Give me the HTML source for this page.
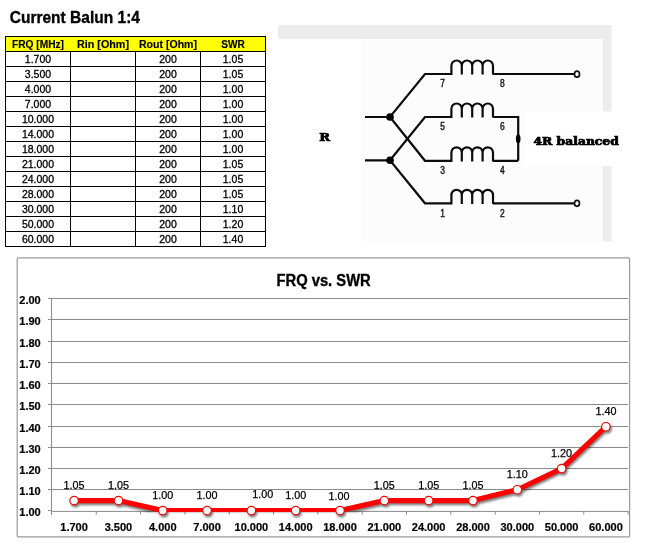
<!DOCTYPE html><html><head><meta charset="utf-8"><title>Current Balun 1:4</title>
<style>
html,body{margin:0;padding:0;background:#fff;}
body{width:653px;height:557px;overflow:hidden;position:relative;font-family:"Liberation Sans",sans-serif;}
svg{position:absolute;left:0;top:0;}
text{font-family:"Liberation Sans",sans-serif;fill:#000;}
.b{font-weight:bold;stroke:#000;stroke-width:0.2px;}
.hd{font-weight:bold;font-size:11px;text-anchor:middle;stroke:#000;stroke-width:0.15px;}
.td{font-size:10.5px;text-anchor:middle;stroke:#000;stroke-width:0.3px;}
.ax{font-weight:bold;font-size:11px;stroke:#000;stroke-width:0.2px;}
.dl{font-size:10.8px;text-anchor:middle;stroke:#000;stroke-width:0.25px;}
.num{font-size:11px;text-anchor:middle;fill:#222;stroke:#222;stroke-width:0.5px;}
.slab{font-family:"DejaVu Serif Condensed","DejaVu Serif","Liberation Serif",serif;font-weight:bold;stroke:#000;stroke-width:0.5px;}
</style></head><body>
<svg width="653" height="557" viewBox="0 0 653 557">
<defs><filter id="sh" x="-5%" y="-20%" width="110%" height="150%"><feGaussianBlur stdDeviation="1.2"/></filter></defs>
<text class="b" x="9.7" y="23.1" font-size="16.9" style="stroke-width:0.35px" textLength="130.3" lengthAdjust="spacingAndGlyphs">Current Balun 1:4</text>
<rect x="5.5" y="36.5" width="260" height="15" fill="#ffff00"/>
<path d="M5.0 36.5H266.0M5.0 51.5H266.0M5.0 66.5H266.0M5.0 81.5H266.0M5.0 96.5H266.0M5.0 111.5H266.0M5.0 126.5H266.0M5.0 141.5H266.0M5.0 156.5H266.0M5.0 171.5H266.0M5.0 186.5H266.0M5.0 201.5H266.0M5.0 216.5H266.0M5.0 231.5H266.0M5.0 246.5H266.0M5.5 36.5V246.5M70.5 51.5V246.5M135.5 51.5V246.5M200.5 51.5V246.5M265.5 36.5V246.5" stroke="#000" stroke-width="1" fill="none" shape-rendering="crispEdges"/>
<text class="hd" x="38.0" y="48.0" textLength="52" lengthAdjust="spacingAndGlyphs">FRQ [MHz]</text>
<text class="hd" x="103.0" y="48.0" textLength="52" lengthAdjust="spacingAndGlyphs">Rin [Ohm]</text>
<text class="hd" x="168.0" y="48.0" textLength="58" lengthAdjust="spacingAndGlyphs">Rout [Ohm]</text>
<text class="hd" x="233.0" y="48.0" textLength="23.5" lengthAdjust="spacingAndGlyphs">SWR</text>
<text class="td" x="38.0" y="63.0">1.700</text>
<text class="td" x="168.0" y="63.0">200</text>
<text class="td" x="233.0" y="63.0">1.05</text>
<text class="td" x="38.0" y="78.0">3.500</text>
<text class="td" x="168.0" y="78.0">200</text>
<text class="td" x="233.0" y="78.0">1.05</text>
<text class="td" x="38.0" y="93.0">4.000</text>
<text class="td" x="168.0" y="93.0">200</text>
<text class="td" x="233.0" y="93.0">1.00</text>
<text class="td" x="38.0" y="108.0">7.000</text>
<text class="td" x="168.0" y="108.0">200</text>
<text class="td" x="233.0" y="108.0">1.00</text>
<text class="td" x="38.0" y="123.0">10.000</text>
<text class="td" x="168.0" y="123.0">200</text>
<text class="td" x="233.0" y="123.0">1.00</text>
<text class="td" x="38.0" y="138.0">14.000</text>
<text class="td" x="168.0" y="138.0">200</text>
<text class="td" x="233.0" y="138.0">1.00</text>
<text class="td" x="38.0" y="153.0">18.000</text>
<text class="td" x="168.0" y="153.0">200</text>
<text class="td" x="233.0" y="153.0">1.00</text>
<text class="td" x="38.0" y="168.0">21.000</text>
<text class="td" x="168.0" y="168.0">200</text>
<text class="td" x="233.0" y="168.0">1.05</text>
<text class="td" x="38.0" y="183.0">24.000</text>
<text class="td" x="168.0" y="183.0">200</text>
<text class="td" x="233.0" y="183.0">1.05</text>
<text class="td" x="38.0" y="198.0">28.000</text>
<text class="td" x="168.0" y="198.0">200</text>
<text class="td" x="233.0" y="198.0">1.05</text>
<text class="td" x="38.0" y="213.0">30.000</text>
<text class="td" x="168.0" y="213.0">200</text>
<text class="td" x="233.0" y="213.0">1.10</text>
<text class="td" x="38.0" y="228.0">50.000</text>
<text class="td" x="168.0" y="228.0">200</text>
<text class="td" x="233.0" y="228.0">1.20</text>
<text class="td" x="38.0" y="243.0">60.000</text>
<text class="td" x="168.0" y="243.0">200</text>
<text class="td" x="233.0" y="243.0">1.40</text>
<g id="diagram">
<rect x="278" y="25" width="333" height="14" fill="#ececec"/>
<rect x="602.5" y="25" width="9" height="216.5" fill="#ececec"/>
<rect x="361" y="39" width="241.5" height="202.5" fill="#fcfcfc"/>
<rect x="525" y="111.5" width="128" height="54.5" fill="#fff"/>
<path d="M365 117H390L425 74H451.4V65.8A5.2 5.3 0 0 1 461.79999999999995 65.8V74.6V74V65.8A5.2 5.3 0 0 1 472.19999999999993 65.8V74.6V74V65.8A5.2 5.3 0 0 1 482.59999999999997 65.8V74.6V74V65.8A5.2 5.3 0 0 1 492.99999999999994 65.8V74.6V74H574" fill="none" stroke="#0c0c0c" stroke-width="2.2" stroke-linejoin="miter"/>
<path d="M365 160.3H390L425 203.3H451.4V195.10000000000002A5.2 5.3 0 0 1 461.79999999999995 195.10000000000002V203.9V203.3V195.10000000000002A5.2 5.3 0 0 1 472.19999999999993 195.10000000000002V203.9V203.3V195.10000000000002A5.2 5.3 0 0 1 482.59999999999997 195.10000000000002V203.9V203.3V195.10000000000002A5.2 5.3 0 0 1 492.99999999999994 195.10000000000002V203.9V203.3H574" fill="none" stroke="#0c0c0c" stroke-width="2.2" stroke-linejoin="miter"/>
<path d="M390 160.3L425 117H451.4V108.8A5.2 5.3 0 0 1 461.79999999999995 108.8V117.6V117V108.8A5.2 5.3 0 0 1 472.19999999999993 108.8V117.6V117V108.8A5.2 5.3 0 0 1 482.59999999999997 108.8V117.6V117V108.8A5.2 5.3 0 0 1 492.99999999999994 108.8V117.6V117H518.2V160.8" fill="none" stroke="#0c0c0c" stroke-width="2.2" stroke-linejoin="miter"/>
<path d="M390 117L425 160.8H451.4V152.60000000000002A5.2 5.3 0 0 1 461.79999999999995 152.60000000000002V161.4V160.8V152.60000000000002A5.2 5.3 0 0 1 472.19999999999993 152.60000000000002V161.4V160.8V152.60000000000002A5.2 5.3 0 0 1 482.59999999999997 152.60000000000002V161.4V160.8V152.60000000000002A5.2 5.3 0 0 1 492.99999999999994 152.60000000000002V161.4V160.8H518.2" fill="none" stroke="#0c0c0c" stroke-width="2.2" stroke-linejoin="miter"/>
<circle cx="390" cy="117" r="3.8" fill="#000"/><circle cx="390" cy="160.3" r="3.8" fill="#000"/>
<ellipse cx="518.2" cy="138.8" rx="2.3" ry="4.6" fill="#000"/>
<ellipse cx="577" cy="74.2" rx="2.5" ry="3" fill="#fff" stroke="#111" stroke-width="1.7"/><ellipse cx="577" cy="203.3" rx="2.5" ry="3" fill="#fff" stroke="#111" stroke-width="1.7"/>
<text class="num" x="442.6" y="86.8" textLength="4.7" lengthAdjust="spacingAndGlyphs">7</text>
<text class="num" x="502.3" y="86.8" textLength="4.7" lengthAdjust="spacingAndGlyphs">8</text>
<text class="num" x="442.6" y="130" textLength="4.7" lengthAdjust="spacingAndGlyphs">5</text>
<text class="num" x="502.3" y="130" textLength="4.7" lengthAdjust="spacingAndGlyphs">6</text>
<text class="num" x="442.6" y="174" textLength="4.7" lengthAdjust="spacingAndGlyphs">3</text>
<text class="num" x="502.3" y="174" textLength="4.7" lengthAdjust="spacingAndGlyphs">4</text>
<text class="num" x="442.6" y="217.3" textLength="4.7" lengthAdjust="spacingAndGlyphs">1</text>
<text class="num" x="502.3" y="217.3" textLength="4.7" lengthAdjust="spacingAndGlyphs">2</text>
<text class="slab" x="319.3" y="140.8" font-size="11.2" style="stroke-width:0.7px" textLength="10.8" lengthAdjust="spacingAndGlyphs">R</text>
<text class="slab" x="533.5" y="144.7" font-size="10.9" style="stroke-width:0.7px" textLength="85.3" lengthAdjust="spacingAndGlyphs">4R balanced</text>
</g>
<g id="chart">
<rect x="17.2" y="257.9" width="612.40" height="278.90" rx="1" fill="#fff" stroke="#9c9c9c" stroke-width="1.25"/>
<path d="M48.0 298.5H628.0M48.0 319.5H628.0M48.0 341.5H628.0M48.0 362.5H628.0M48.0 383.5H628.0M48.0 404.5H628.0M48.0 426.5H628.0M48.0 447.5H628.0M48.0 468.5H628.0M48.0 489.5H628.0M48.0 510.5H51.5" stroke="#8a8a8a" stroke-width="1" fill="none" shape-rendering="crispEdges"/>
<path d="M51.5 298.0V514.5" stroke="#8a8a8a" stroke-width="1" fill="none" shape-rendering="crispEdges"/>
<path d="M51.5 511.4H628.5M96.27 511.4V514.6M140.59 511.4V514.6M184.91 511.4V514.6M229.23 511.4V514.6M273.55 511.4V514.6M317.87 511.4V514.6M362.19 511.4V514.6M406.51 511.4V514.6M450.83 511.4V514.6M495.15 511.4V514.6M539.47 511.4V514.6M583.79 511.4V514.6M628.11 511.4V514.6" stroke="#8a8a8a" stroke-width="1" fill="none"/>
<text class="ax" x="19.3" y="304.00">2.00</text>
<text class="ax" x="19.3" y="325.00">1.90</text>
<text class="ax" x="19.3" y="347.00">1.80</text>
<text class="ax" x="19.3" y="368.00">1.70</text>
<text class="ax" x="19.3" y="389.00">1.60</text>
<text class="ax" x="19.3" y="410.00">1.50</text>
<text class="ax" x="19.3" y="432.00">1.40</text>
<text class="ax" x="19.3" y="453.00">1.30</text>
<text class="ax" x="19.3" y="474.00">1.20</text>
<text class="ax" x="19.3" y="495.00">1.10</text>
<text class="ax" x="19.3" y="516.00">1.00</text>
<clipPath id="pc"><rect x="40" y="290" width="600" height="222"/></clipPath>
<g filter="url(#sh)" opacity="0.5">
<g clip-path="url(#pc)"><polyline points="74.10,500.60 118.42,500.60 162.74,510.60 207.06,510.60 251.38,510.60 295.70,510.60 340.02,510.60 384.34,500.60 428.66,500.60 472.98,500.60 517.30,489.70 561.62,468.60 605.94,426.70" transform="translate(0.8,2.2)" fill="none" stroke="#000" stroke-width="5.1" stroke-linejoin="round" stroke-linecap="round"/></g>
<circle cx="75.40" cy="502.80" r="4.8" fill="#000"/>
<circle cx="119.72" cy="502.80" r="4.8" fill="#000"/>
<circle cx="164.04" cy="512.80" r="4.8" fill="#000"/>
<circle cx="208.36" cy="512.80" r="4.8" fill="#000"/>
<circle cx="252.68" cy="512.80" r="4.8" fill="#000"/>
<circle cx="297.00" cy="512.80" r="4.8" fill="#000"/>
<circle cx="341.32" cy="512.80" r="4.8" fill="#000"/>
<circle cx="385.64" cy="502.80" r="4.8" fill="#000"/>
<circle cx="429.96" cy="502.80" r="4.8" fill="#000"/>
<circle cx="474.28" cy="502.80" r="4.8" fill="#000"/>
<circle cx="518.60" cy="491.90" r="4.8" fill="#000"/>
<circle cx="562.92" cy="470.80" r="4.8" fill="#000"/>
<circle cx="607.24" cy="428.90" r="4.8" fill="#000"/>
</g>
<g clip-path="url(#pc)"><polyline points="74.10,500.60 118.42,500.60 162.74,510.60 207.06,510.60 251.38,510.60 295.70,510.60 340.02,510.60 384.34,500.60 428.66,500.60 472.98,500.60 517.30,489.70 561.62,468.60 605.94,426.70" fill="none" stroke="#ff0000" stroke-width="5.1" stroke-linejoin="round" stroke-linecap="round"/></g>
<circle cx="74.10" cy="500.60" r="4.25" fill="#fff" stroke="#f80000" stroke-width="1.15"/>
<circle cx="118.42" cy="500.60" r="4.25" fill="#fff" stroke="#f80000" stroke-width="1.15"/>
<circle cx="162.74" cy="510.60" r="4.25" fill="#fff" stroke="#f80000" stroke-width="1.15"/>
<circle cx="207.06" cy="510.60" r="4.25" fill="#fff" stroke="#f80000" stroke-width="1.15"/>
<circle cx="251.38" cy="510.60" r="4.25" fill="#fff" stroke="#f80000" stroke-width="1.15"/>
<circle cx="295.70" cy="510.60" r="4.25" fill="#fff" stroke="#f80000" stroke-width="1.15"/>
<circle cx="340.02" cy="510.60" r="4.25" fill="#fff" stroke="#f80000" stroke-width="1.15"/>
<circle cx="384.34" cy="500.60" r="4.25" fill="#fff" stroke="#f80000" stroke-width="1.15"/>
<circle cx="428.66" cy="500.60" r="4.25" fill="#fff" stroke="#f80000" stroke-width="1.15"/>
<circle cx="472.98" cy="500.60" r="4.25" fill="#fff" stroke="#f80000" stroke-width="1.15"/>
<circle cx="517.30" cy="489.70" r="4.25" fill="#fff" stroke="#f80000" stroke-width="1.15"/>
<circle cx="561.62" cy="468.60" r="4.25" fill="#fff" stroke="#f80000" stroke-width="1.15"/>
<circle cx="605.94" cy="426.70" r="4.25" fill="#fff" stroke="#f80000" stroke-width="1.15"/>
<text class="dl" x="74.10" y="488.90">1.05</text>
<text class="dl" x="118.42" y="488.90">1.05</text>
<text class="dl" x="162.74" y="498.90">1.00</text>
<text class="dl" x="207.06" y="498.90">1.00</text>
<text class="dl" x="262.88" y="497.60">1.00</text>
<text class="dl" x="295.70" y="498.90">1.00</text>
<text class="dl" x="339.02" y="500.40">1.00</text>
<text class="dl" x="384.34" y="488.90">1.05</text>
<text class="dl" x="428.66" y="488.90">1.05</text>
<text class="dl" x="472.98" y="488.90">1.05</text>
<text class="dl" x="517.30" y="478.00">1.10</text>
<text class="dl" x="561.62" y="456.90">1.20</text>
<text class="dl" x="605.94" y="415.00">1.40</text>
<text class="ax" text-anchor="middle" x="74.10" y="530.8">1.700</text>
<text class="ax" text-anchor="middle" x="118.42" y="530.8">3.500</text>
<text class="ax" text-anchor="middle" x="162.74" y="530.8">4.000</text>
<text class="ax" text-anchor="middle" x="207.06" y="530.8">7.000</text>
<text class="ax" text-anchor="middle" x="251.38" y="530.8">10.000</text>
<text class="ax" text-anchor="middle" x="295.70" y="530.8">14.000</text>
<text class="ax" text-anchor="middle" x="340.02" y="530.8">18.000</text>
<text class="ax" text-anchor="middle" x="384.34" y="530.8">21.000</text>
<text class="ax" text-anchor="middle" x="428.66" y="530.8">24.000</text>
<text class="ax" text-anchor="middle" x="472.98" y="530.8">28.000</text>
<text class="ax" text-anchor="middle" x="517.30" y="530.8">30.000</text>
<text class="ax" text-anchor="middle" x="561.62" y="530.8">50.000</text>
<text class="ax" text-anchor="middle" x="605.94" y="530.8">60.000</text>
<text class="b" x="276.5" y="285.5" font-size="16" style="stroke-width:0.35px" textLength="94.2" lengthAdjust="spacingAndGlyphs">FRQ vs. SWR</text>
</g>
</svg></body></html>
